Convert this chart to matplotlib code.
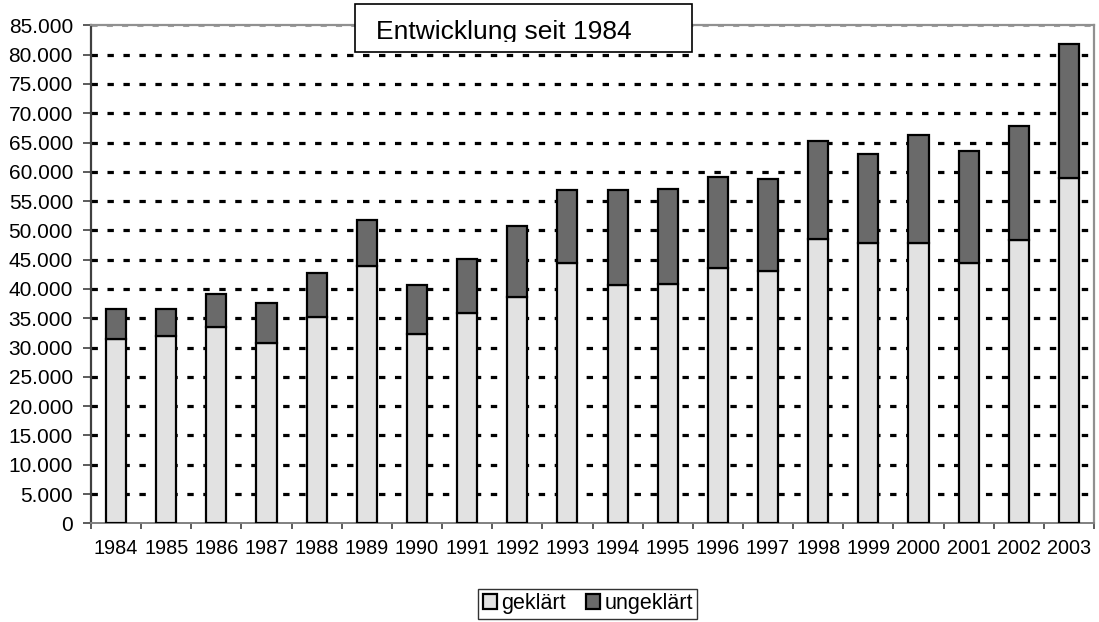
import matplotlib
matplotlib.use("Agg")
import numpy as np
from matplotlib import pyplot as plt
from matplotlib.ticker import FuncFormatter, FixedLocator
from matplotlib.patches import Rectangle

plt.rcParams['font.family'] = ['Liberation Sans', 'DejaVu Sans']

# -------------- data
years = [1984, 1985, 1986, 1987, 1988, 1989, 1990, 1991, 1992, 1993,
         1994, 1995, 1996, 1997, 1998, 1999, 2000, 2001, 2002, 2003]
totals = [36500, 36600, 39150, 37600, 42700, 51800, 40600, 45100, 50800, 56850,
          56950, 57100, 59100, 58800, 65300, 63100, 66300, 63600, 67900, 81850]
geklaert = [31500, 31900, 33500, 30800, 35300, 44000, 32300, 35900, 38600, 44500,
            40700, 40900, 43600, 43000, 48600, 47800, 47900, 44400, 48400, 59000]
ungeklaert = [t - g for t, g in zip(totals, geklaert)]

title_text = "Entwicklung seit 1984"
labels = ["geklärt", "ungeklärt"]

W, H = 1099, 622

# -------------- figure
fig = plt.figure(figsize=(W / 100, H / 100), dpi=100, facecolor='white')
ax = fig.add_axes([91 / W, 1 - 523.3 / H, (1094 - 91) / W, (523.3 - 25.4) / H])

x = np.arange(len(years))
ax.bar(x, geklaert, width=0.4, color='#e2e2e2', edgecolor='black', linewidth=1.6,
       label=labels[0], zorder=3)
ax.bar(x, ungeklaert, bottom=geklaert, width=0.4, color='#6a6a6a', edgecolor='black',
       linewidth=1.6, label=labels[1], zorder=3)

ax.set_xlim(-0.5, len(years) - 0.5)
ax.set_ylim(0, 85000)

# gridlines
for yv in range(5000, 85000, 5000):
    ax.axhline(yv, color='black', linewidth=2.3, linestyle=(0, (2, 3)), zorder=1)
ax.axhline(85000, color='#a0a0a0', linewidth=2.2, linestyle=(0, (2, 3)), zorder=1)

# spines
ax.spines['left'].set_color('#404040')
ax.spines['left'].set_linewidth(1.6)
ax.spines['bottom'].set_color('#808080')
ax.spines['bottom'].set_linewidth(1.4)
ax.spines['top'].set_color('#909090')
ax.spines['top'].set_linewidth(1.6)
ax.spines['right'].set_color('#909090')
ax.spines['right'].set_linewidth(1.6)

# ticks
ax.yaxis.set_major_locator(FixedLocator(range(0, 85001, 5000)))
ax.yaxis.set_major_formatter(FuncFormatter(lambda v, p: f"{int(v):,}".replace(",", ".")))
ax.tick_params(axis='y', direction='out', length=6, width=1.2, color='#404040',
               labelsize=15, pad=7)
ax.set_xticks(x)
ax.set_xticklabels([str(y) for y in years])
ax.tick_params(axis='x', which='major', length=0, labelsize=14.3, pad=11)
ax.set_xticks(np.arange(-0.5, len(years)), minor=True)
ax.tick_params(axis='x', which='minor', direction='out', length=4.5, width=1.2, color='#404040')

# title box
fig.patches.append(Rectangle((355 / W, 1 - 52.3 / H), (691.7 - 355) / W, 48.3 / H,
                             transform=fig.transFigure, facecolor='white',
                             edgecolor='black', linewidth=1.2, zorder=5))
clip = Rectangle((355 / W, 1 - 41.5 / H), (691.7 - 355) / W, 37 / H,
                 transform=fig.transFigure, facecolor='none', edgecolor='none')
t = fig.text(376.5 / W, 1 - 39.3 / H, title_text, fontsize=19, va='baseline', ha='left',
             zorder=6)
t.set_clip_path(clip)

# legend
leg = fig.legend(loc='center', bbox_to_anchor=(587.8 / W, 1 - 603.7 / H), ncol=2, fontsize=15.5,
                 frameon=True, fancybox=False, edgecolor='black', handlelength=0.65,
                 handleheight=0.65, handletextpad=0.23, columnspacing=0.9, borderpad=0.2,
                 borderaxespad=0.0)
leg.get_frame().set_linewidth(1.0)

plt.savefig('out.png', dpi=100, facecolor='white')
